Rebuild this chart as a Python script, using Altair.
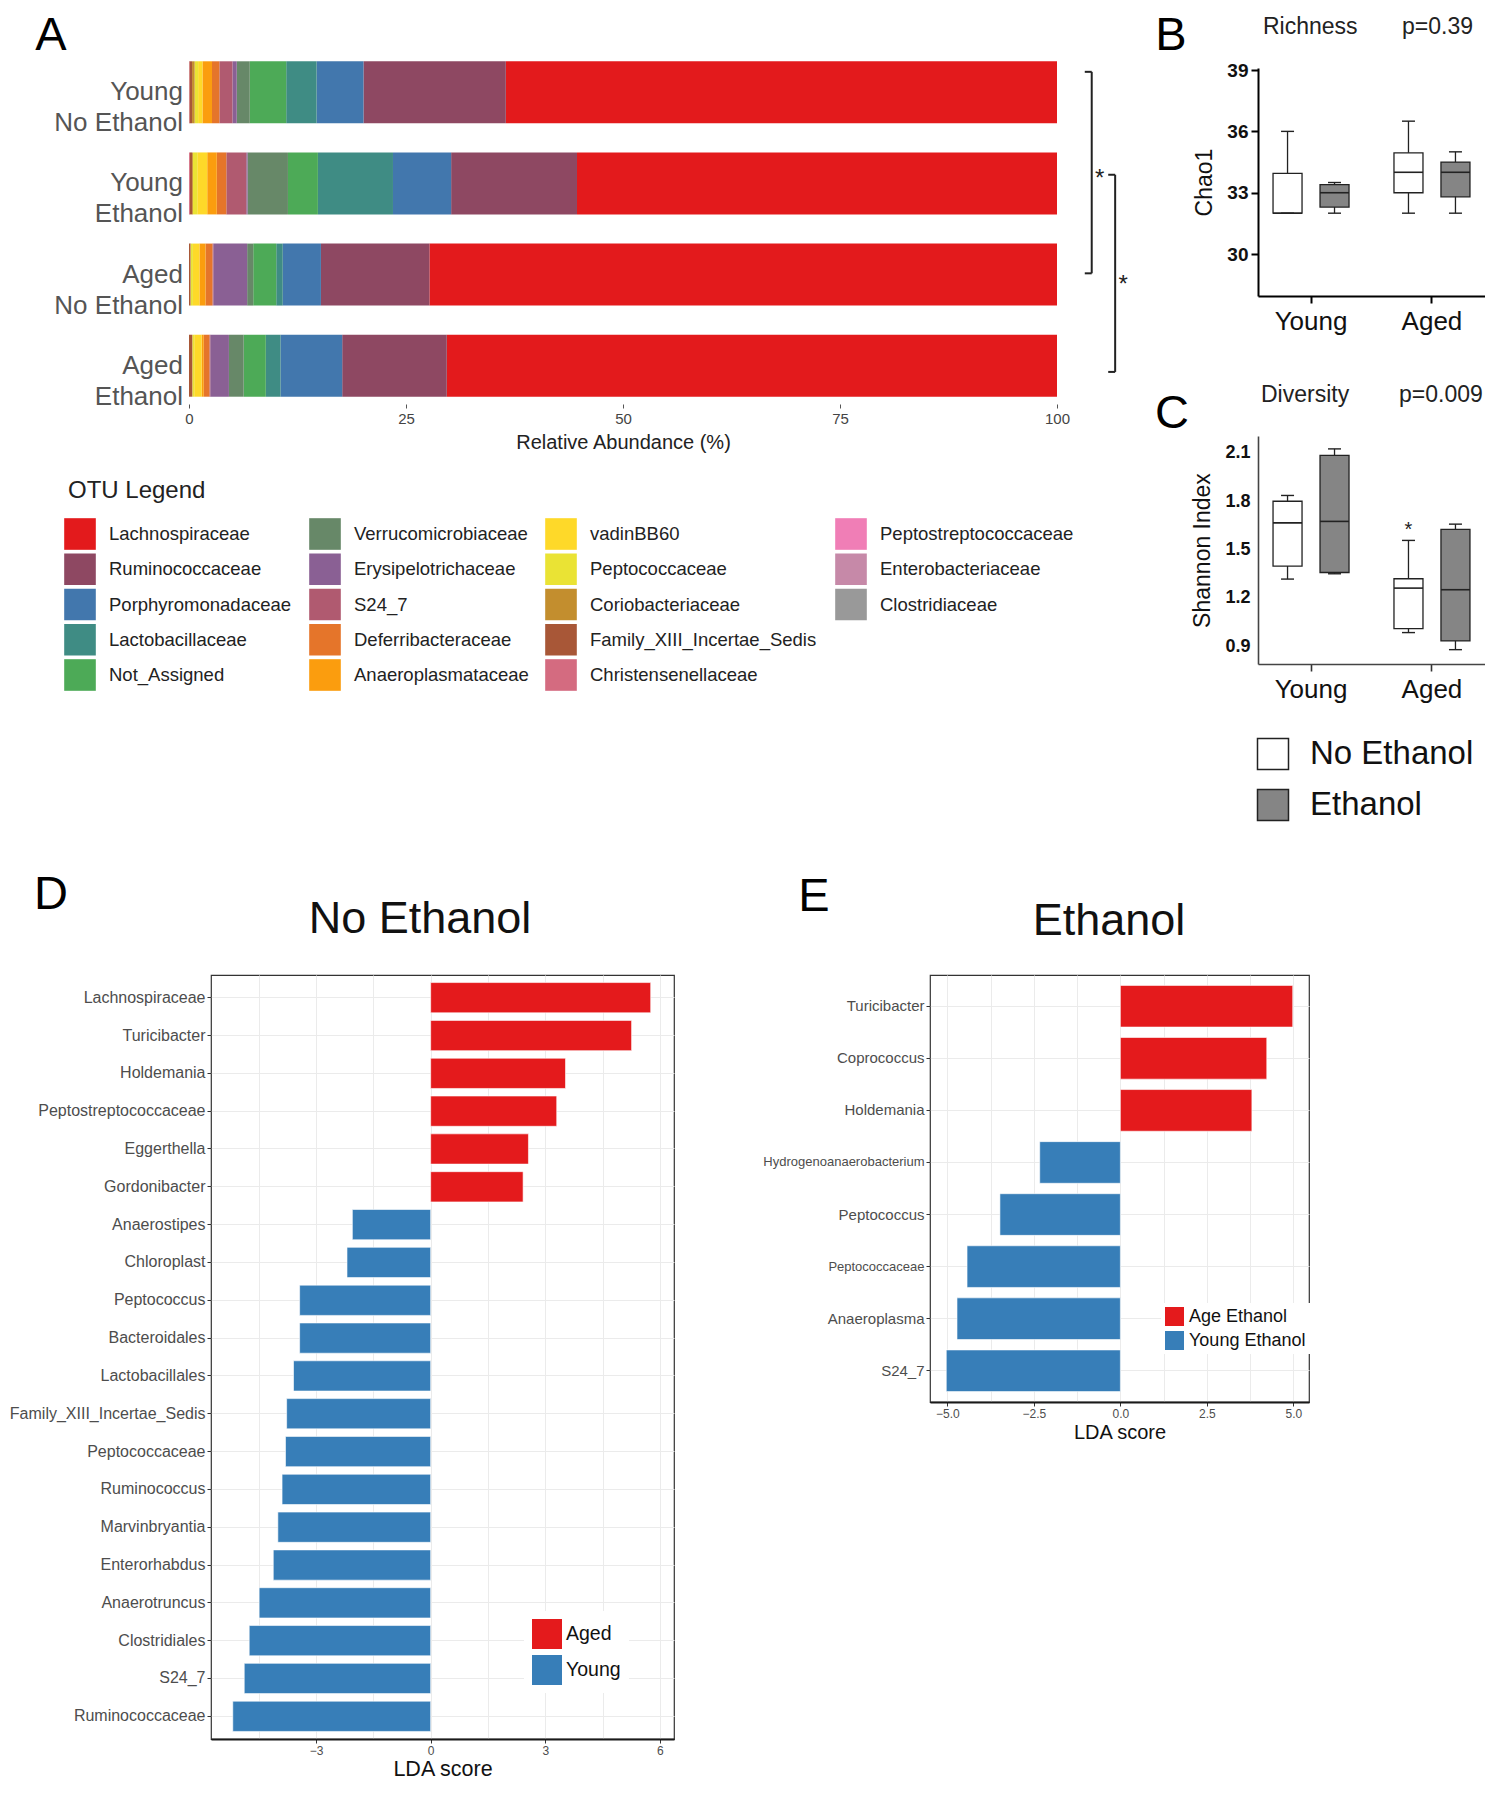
import altair as alt
import pandas as pd

FONT = "Liberation Sans"

# ---------------- Panel A : relative abundance ----------------
otu_names = ["Lachnospiraceae", "Ruminococcaceae", "Porphyromonadaceae", "Lactobacillaceae", "Not_Assigned",
             "Verrucomicrobiaceae", "Erysipelotrichaceae", "S24_7", "Deferribacteraceae", "Anaeroplasmataceae",
             "vadinBB60", "Peptococcaceae", "Coriobacteriaceae", "Family_XIII_Incertae_Sedis",
             "Christensenellaceae", "Peptostreptococcaceae", "Enterobacteriaceae", "Clostridiaceae"]
otu_colors = ["#E31A1C", "#8E4862", "#4277AD", "#3F8C84", "#4DAA57",
              "#678868", "#8A6094", "#B05A70", "#E5752A", "#FB9D0E",
              "#FED929", "#EAE334", "#C38E2E", "#A85737",
              "#D46B80", "#F07EB6", "#C689A8", "#999999"]
sample_names = ["Young|No Ethanol", "Young|Ethanol", "Aged|No Ethanol", "Aged|Ethanol"]
abund_young_noeth = [63.5, 16.4, 5.4, 3.5, 4.2, 1.5, 0.5, 1.5, 0.85, 1.1, 0.5, 0.4, 0.3, 0.3, 0.05, 0.0, 0.0, 0.0]
abund_young_eth = [55.3, 14.5, 6.7, 8.65, 3.45, 4.65, 0.15, 2.3, 1.1, 1.1, 1.15, 0.5, 0.1, 0.25, 0.1, 0.0, 0.0, 0.0]
abund_aged_noeth = [72.3, 12.5, 4.4, 0.75, 2.65, 0.7, 3.9, 0.1, 0.8, 0.7, 0.75, 0.25, 0.05, 0.15, 0.0, 0.0, 0.0, 0.0]
abund_aged_eth = [70.3, 12.05, 7.1, 1.7, 2.55, 1.7, 2.15, 0.1, 0.65, 0.25, 0.85, 0.2, 0.05, 0.35, 0.0, 0.0, 0.0, 0.0]

bracket_from = ["Young|No Ethanol", "Young|Ethanol"]
bracket_to = ["Aged|No Ethanol", "Aged|Ethanol"]
bracket_mid = ["Young|Ethanol", "Aged|No Ethanol"]
bracket_x = [104.0, 106.7]
bracket_text = ["*", "*"]

# ---------------- Panels B / C : box plots ----------------
box_group = ["Young", "Young", "Aged", "Aged"]
box_cond = ["No Ethanol", "Ethanol", "No Ethanol", "Ethanol"]
chao_min = [32.0, 32.0, 32.0, 32.0]
chao_q1 = [32.0, 32.3, 33.0, 32.8]
chao_med = [32.0, 33.0, 34.0, 34.0]
chao_q3 = [33.95, 33.4, 34.95, 34.5]
chao_max = [36.0, 33.5, 36.5, 35.0]
shan_min = [1.317, 1.35, 0.985, 0.879]
shan_q1 = [1.398, 1.358, 1.01, 0.933]
shan_med = [1.666, 1.675, 1.261, 1.251]
shan_q3 = [1.80, 2.085, 1.319, 1.625]
shan_max = [1.836, 2.125, 1.557, 1.658]
shan_star_group = ["Aged"]
shan_star_cond = ["No Ethanol"]
shan_star_value = [1.656]

# ---------------- Panels D / E : LDA scores ----------------
d_taxa = ["Lachnospiraceae", "Turicibacter", "Holdemania", "Peptostreptococcaceae", "Eggerthella",
          "Gordonibacter", "Anaerostipes", "Chloroplast", "Peptococcus", "Bacteroidales", "Lactobacillales",
          "Family_XIII_Incertae_Sedis", "Peptococcaceae", "Ruminococcus", "Marvinbryantia", "Enterorhabdus",
          "Anaerotruncus", "Clostridiales", "S24_7", "Ruminococcaceae"]
d_lda = [5.76, 5.26, 3.53, 3.30, 2.56, 2.42, -2.05, -2.19, -3.43, -3.43, -3.59, -3.77, -3.80, -3.89,
         -4.00, -4.12, -4.49, -4.75, -4.88, -5.18]
d_class = ["Aged"] * 6 + ["Young"] * 14
e_taxa = ["Turicibacter", "Coprococcus", "Holdemania", "Hydrogenoanaerobacterium", "Peptococcus",
          "Peptococcaceae", "Anaeroplasma", "S24_7"]
e_lda = [4.98, 4.23, 3.80, -2.33, -3.48, -4.43, -4.72, -5.03]
e_class = ["Age Ethanol"] * 3 + ["Young Ethanol"] * 5


def label(text, x, y, size, align="center", weight="normal", color="#111"):
    return alt.Chart(pd.DataFrame({"t": [text]})).mark_text(
        align=align, baseline="middle", fontSize=size, fontWeight=weight, color=color
    ).encode(text="t:N", x=alt.value(x), y=alt.value(y))


# ======================= Panel A =======================
rows = []
for s, vals in zip(sample_names, [abund_young_noeth, abund_young_eth, abund_aged_noeth, abund_aged_eth]):
    for i, (name, v) in enumerate(zip(otu_names, vals)):
        rows.append({"sample": s, "otu": name, "pct": v, "rank": len(otu_names) - 1 - i})
df_a = pd.DataFrame(rows)

x_a = alt.Scale(domain=[0, 100], range=[-22, 846], nice=False, zero=True)
y_a = alt.Scale(domain=sample_names, paddingInner=0.32, paddingOuter=0.08)
color_otu = alt.Scale(domain=otu_names, range=otu_colors)
x_axis_a = alt.Axis(values=[0, 25, 50, 75, 100], title="Relative Abundance (%)", domain=False,
                    grid=False, tickSize=4, tickColor="#555", labelFontSize=15, labelColor="#444",
                    labelPadding=3, labelFlush=False, titleFontSize=20, titleFontWeight="normal",
                    titleColor="#222", titlePadding=6)
y_axis_a = alt.Axis(title=None, labels=False, domain=False, ticks=False, grid=False)

bars_a = alt.Chart(df_a).mark_bar().encode(
    x=alt.X("pct:Q", stack="zero", scale=x_a, axis=x_axis_a),
    y=alt.Y("sample:N", scale=y_a, axis=y_axis_a),
    color=alt.Color("otu:N", scale=color_otu, legend=None),
    order=alt.Order("rank:Q", sort="ascending"),
)

sample_labels = alt.Chart(pd.DataFrame({"sample": sample_names})).mark_text(
    align="right", baseline="middle", lineBreak="|", lineHeight=31, fontSize=26, color="#555", dx=-6
).encode(x=alt.value(-22), y=alt.Y("sample:N", scale=y_a, axis=y_axis_a), text="sample:N")


def bracket_layers(i, top_bp, bot_bp, mid_bp):
    d = pd.DataFrame({"x": [bracket_x[i]], "top": [bracket_from[i]], "bot": [bracket_to[i]],
                      "mid": [bracket_mid[i]], "lab": [bracket_text[i]]})
    base = alt.Chart(d)
    vert = base.mark_rule(color="#222", strokeWidth=2).encode(
        x=alt.X("x:Q", scale=x_a, axis=x_axis_a),
        y=alt.Y("top:N", scale=y_a, bandPosition=top_bp, axis=y_axis_a),
        y2=alt.Y2("bot:N", bandPosition=bot_bp),
    )
    cap_t = base.transform_calculate(xc="datum.x - 0.8").mark_rule(color="#222", strokeWidth=2).encode(
        x=alt.X("xc:Q", scale=x_a, axis=x_axis_a), x2="x:Q",
        y=alt.Y("top:N", scale=y_a, bandPosition=top_bp, axis=y_axis_a),
    )
    cap_b = base.transform_calculate(xc="datum.x - 0.8").mark_rule(color="#222", strokeWidth=2).encode(
        x=alt.X("xc:Q", scale=x_a, axis=x_axis_a), x2="x:Q",
        y=alt.Y("bot:N", scale=y_a, bandPosition=bot_bp, axis=y_axis_a),
    )
    star = base.mark_text(fontSize=24, dx=8, dy=7, color="#222").encode(
        x=alt.X("x:Q", scale=x_a, axis=x_axis_a),
        y=alt.Y("mid:N", scale=y_a, bandPosition=mid_bp, axis=y_axis_a),
        text="lab:N",
    )
    return [vert, cap_t, cap_b, star]


chart_a = alt.layer(
    bars_a,
    sample_labels,
    *bracket_layers(0, 0.17, 0.48, 0.31),
    *bracket_layers(1, 0.36, 0.60, 0.55),
    label("A", -160, -18.5, 47, color="#000"),
).properties(width=846, height=350)

# OTU legend (its own small chart under panel A)
leg_a = pd.DataFrame({"otu": otu_names, "col": [i // 5 for i in range(len(otu_names))],
                      "row": [i % 5 for i in range(len(otu_names))]})
leg_x = alt.Scale(domain=[0, 1, 2, 3], range=[-131, 114, 350, 640])
leg_y = alt.Scale(domain=[0, 4], range=[55, 196])
leg_sq = alt.Chart(leg_a).mark_square(size=1000, opacity=1).encode(
    x=alt.X("col:Q", scale=leg_x, axis=None),
    y=alt.Y("row:Q", scale=leg_y, axis=None),
    color=alt.Color("otu:N", scale=color_otu, legend=None),
)
leg_tx = alt.Chart(leg_a).mark_text(align="left", baseline="middle", dx=29, fontSize=18.5, color="#222").encode(
    x=alt.X("col:Q", scale=leg_x, axis=None),
    y=alt.Y("row:Q", scale=leg_y, axis=None),
    text="otu:N",
)
chart_a_leg = alt.layer(
    leg_sq, leg_tx,
    label("OTU Legend", -143, 12, 24, align="left", color="#222"),
).properties(width=846, height=200)

# ======================= Panels B / C =======================
x_box = alt.Scale(domain=["Young", "Aged"], paddingInner=0.223, paddingOuter=0.05)
off_box = alt.Scale(domain=["No Ethanol", "Ethanol"], paddingInner=0, paddingOuter=0)
fill_box = alt.Scale(domain=["No Ethanol", "Ethanol"], range=["#ffffff", "#858585"])


def box_inner(lo, q1, med, q3, hi, yscale, yaxis, xaxis, line_col, extra=None):
    df = pd.DataFrame({"group": box_group, "cond": box_cond, "lo": lo, "q1": q1, "med": med,
                       "q3": q3, "hi": hi})
    base = alt.Chart(df)
    X = alt.X("group:N", scale=x_box, axis=xaxis)
    XO = alt.XOffset("cond:N", scale=off_box)
    whisk = base.mark_rule(color=line_col, strokeWidth=1.3).encode(
        x=X, xOffset=XO, y=alt.Y("lo:Q", scale=yscale, axis=yaxis), y2="hi:Q")
    box = base.mark_bar(width=29, stroke=line_col, strokeWidth=1.3).encode(
        x=X, xOffset=XO, y=alt.Y("q1:Q", scale=yscale, axis=yaxis), y2="q3:Q",
        fill=alt.Fill("cond:N", scale=fill_box, legend=None))
    mid = base.mark_tick(size=29, thickness=1.6, color=line_col, opacity=1).encode(
        x=X, xOffset=XO, y=alt.Y("med:Q", scale=yscale, axis=yaxis))
    cap_lo = base.mark_tick(size=13, thickness=1.4, color=line_col, opacity=1).encode(
        x=X, xOffset=XO, y=alt.Y("lo:Q", scale=yscale, axis=yaxis))
    cap_hi = base.mark_tick(size=13, thickness=1.4, color=line_col, opacity=1).encode(
        x=X, xOffset=XO, y=alt.Y("hi:Q", scale=yscale, axis=yaxis))
    layers = [whisk, box, mid, cap_lo, cap_hi]
    if extra is not None:
        layers.append(extra(X, XO))
    return alt.layer(*layers)


y_b = alt.Scale(domain=[27.95, 39.1], range=[242, 14], nice=False, zero=False)
yaxis_b = alt.Axis(values=[30, 33, 36, 39], title="Chao1", grid=False, domainColor="#000", domainWidth=2,
                   tickColor="#000", tickWidth=2, tickSize=7, labelFontSize=19, labelFontWeight="bold",
                   labelColor="#111", labelPadding=3, titleFontSize=23, titleFontWeight="normal",
                   titleColor="#111", titlePadding=10)
xaxis_b = alt.Axis(title=None, labelAngle=0, grid=False, domainColor="#000", domainWidth=2, tickColor="#000",
                   tickWidth=2, tickSize=7, labelFontSize=26, labelColor="#111", labelPadding=5)
inner_b = box_inner(chao_min, chao_q1, chao_med, chao_q3, chao_max, y_b, yaxis_b, xaxis_b, "#222")
chart_b = alt.layer(
    inner_b,
    label("B", -87, -18.5, 47, color="#000"),
    label("Richness", 5, -27, 23, align="left", color="#222"),
    label("p=0.39", 144, -27, 23, align="left", color="#222"),
).properties(width=227, height=242)

y_c = alt.Scale(domain=[0.79, 2.205], nice=False, zero=False)
yaxis_c = alt.Axis(values=[0.9, 1.2, 1.5, 1.8, 2.1], format=".1f", title="Shannon Index", grid=False,
                   domainColor="#444", domainWidth=1.6, ticks=False, labelFontSize=18,
                   labelFontWeight="bold", labelColor="#111", labelPadding=8, titleFontSize=23,
                   titleFontWeight="normal", titleColor="#111", titlePadding=10)
xaxis_c = alt.Axis(title=None, labelAngle=0, grid=False, domainColor="#444", domainWidth=1.6,
                   tickColor="#333", tickWidth=1.6, tickSize=7, labelFontSize=26, labelColor="#111",
                   labelPadding=5)


def star_layer(X, XO):
    d = pd.DataFrame({"group": shan_star_group, "cond": shan_star_cond, "v": shan_star_value})
    return alt.Chart(d).mark_text(text="*", fontSize=20, dy=6, color="#222").encode(
        x=X, xOffset=XO, y=alt.Y("v:Q", scale=y_c, axis=yaxis_c))


inner_c = box_inner(shan_min, shan_q1, shan_med, shan_q3, shan_max, y_c, yaxis_c, xaxis_c, "#222",
                    extra=star_layer)

bc_leg = pd.DataFrame({"cond": ["No Ethanol", "Ethanol"], "row": [0, 1]})
bc_y = alt.Scale(domain=[0, 1], range=[318, 369])
bc_sq = alt.Chart(bc_leg).mark_square(size=961, stroke="#222", strokeWidth=1.5, opacity=1).encode(
    x=alt.value(15), y=alt.Y("row:Q", scale=bc_y, axis=None),
    fill=alt.Fill("cond:N", scale=fill_box, legend=None))
bc_tx = alt.Chart(bc_leg).mark_text(align="left", baseline="middle", dx=37, fontSize=33, color="#111").encode(
    x=alt.value(15), y=alt.Y("row:Q", scale=bc_y, axis=None), text="cond:N")

chart_c = alt.layer(
    inner_c, bc_sq, bc_tx,
    label("C", -86, -22, 47, color="#000"),
    label("Diversity", 3, -41, 23, align="left", color="#222"),
    label("p=0.009", 141, -41, 23, align="left", color="#222"),
).resolve_scale(x="independent", y="independent").properties(width=227, height=228)

# ======================= Panels D / E =======================
df_d = pd.DataFrame({"taxon": d_taxa, "lda": d_lda, "cls": d_class})
x_d = alt.Scale(domain=[-5.75, 6.37], nice=False, zero=False)
d_bars = alt.Chart(df_d).mark_bar(stroke="white", strokeWidth=0.6).encode(
    x=alt.X("lda:Q", scale=x_d,
            axis=alt.Axis(values=[-4.5, -3, -1.5, 0, 1.5, 3, 4.5, 6],
                          labelExpr="datum.value % 3 == 0 ? datum.label : ''",
                          tickOpacity={"condition": {"test": "datum.value % 3 != 0", "value": 0}, "value": 1},
                          grid=True, gridColor="#ebebeb", gridWidth=1, domainColor="#1a1a1a", domainWidth=2,
                          tickColor="#333", tickSize=4, labelFontSize=12, labelColor="#4d4d4d",
                          labelPadding=2, labelFlush=False, title="LDA score", titleFontSize=21.5,
                          titleFontWeight="normal", titleColor="#111", titlePadding=2)),
    y=alt.Y("taxon:N", scale=alt.Scale(domain=d_taxa, paddingInner=0.2, paddingOuter=0.2),
            axis=alt.Axis(title=None, labelFontSize=16, labelColor="#4d4d4d", tickColor="#333", tickSize=4,
                          labelPadding=2, labelLimit=0, domain=False, grid=True, gridColor="#ebebeb",
                          bandPosition=0.5)),
    color=alt.Color("cls:N", scale=alt.Scale(domain=["Aged", "Young"], range=["#E41A1C", "#377EB8"]),
                    legend=alt.Legend(title=None, orient="none", legendX=313, legendY=636,
                                      symbolType="square", symbolSize=900, symbolStrokeWidth=0,
                                      labelFontSize=19.5, labelColor="#111", fillColor="white", padding=8,
                                      rowPadding=6, labelOffset=4)),
)
chart_d = alt.layer(
    d_bars,
    label("D", -160, -80, 47, color="#000"),
    label("No Ethanol", 209, -56, 45, color="#111"),
).properties(width=463, height=764, view=alt.ViewBackground(stroke="#333", strokeWidth=1.2))

df_e = pd.DataFrame({"taxon": e_taxa, "lda": e_lda, "cls": e_class})
x_e = alt.Scale(domain=[-5.5, 5.45], nice=False, zero=False)
e_bars = alt.Chart(df_e).mark_bar(stroke="white", strokeWidth=0.6).encode(
    x=alt.X("lda:Q", scale=x_e,
            axis=alt.Axis(values=[-5, -3.75, -2.5, -1.25, 0, 1.25, 2.5, 3.75, 5],
                          labelExpr="datum.value % 2.5 == 0 ? format(datum.value, '.1f') : ''",
                          tickOpacity={"condition": {"test": "datum.value % 2.5 != 0", "value": 0}, "value": 1},
                          grid=True, gridColor="#ebebeb", gridWidth=1, domainColor="#1a1a1a", domainWidth=2,
                          tickColor="#333", tickSize=4, labelFontSize=12, labelColor="#4d4d4d",
                          labelPadding=2, labelFlush=False, title="LDA score", titleFontSize=20,
                          titleFontWeight="normal", titleColor="#111", titlePadding=3)),
    y=alt.Y("taxon:N", scale=alt.Scale(domain=e_taxa, paddingInner=0.2, paddingOuter=0.2),
            axis=alt.Axis(title=None,
                          labelFontSize={"condition": {"test": "datum.value == 'Hydrogenoanaerobacterium' || datum.value == 'Peptococcaceae'", "value": 13}, "value": 15},
                          labelColor="#4d4d4d", tickColor="#333", tickSize=4, labelPadding=2, labelLimit=0,
                          domain=False, grid=True, gridColor="#ebebeb", bandPosition=0.5)),
    color=alt.Color("cls:N", scale=alt.Scale(domain=["Age Ethanol", "Young Ethanol"],
                                             range=["#E41A1C", "#377EB8"]),
                    legend=alt.Legend(title=None, orient="none", legendX=231, legendY=328,
                                      symbolType="square", symbolSize=361, symbolStrokeWidth=0,
                                      labelFontSize=18, labelColor="#111", fillColor="white", padding=4,
                                      rowPadding=5, labelOffset=5)),
)
chart_e = alt.layer(
    e_bars,
    label("E", -116, -78, 47, color="#000"),
    label("Ethanol", 179, -54, 45, color="#111"),
).properties(width=379, height=427, view=alt.ViewBackground(stroke="#333", strokeWidth=1.2))

# ======================= Layout (flow layout) =======================
left_col = alt.concat(chart_a, chart_a_leg, columns=1, align="none", spacing=27)
right_col = alt.concat(chart_b, chart_c, columns=1, align="none", spacing=50)
top = alt.concat(left_col, right_col, align="none", spacing=27).resolve_scale(
    color="independent", fill="independent")
bottom = alt.concat(chart_d, chart_e, align="none", spacing=87).resolve_scale(color="independent")
chart = alt.concat(top, bottom, columns=1, align="none", spacing=46).resolve_scale(
    color="independent", fill="independent").properties(
    padding={"left": 0, "top": 3, "right": 0, "bottom": 0}
).configure(font=FONT).configure_view(strokeWidth=0)

chart.save("out.html", embed_options={"renderer": "svg", "actions": False})
